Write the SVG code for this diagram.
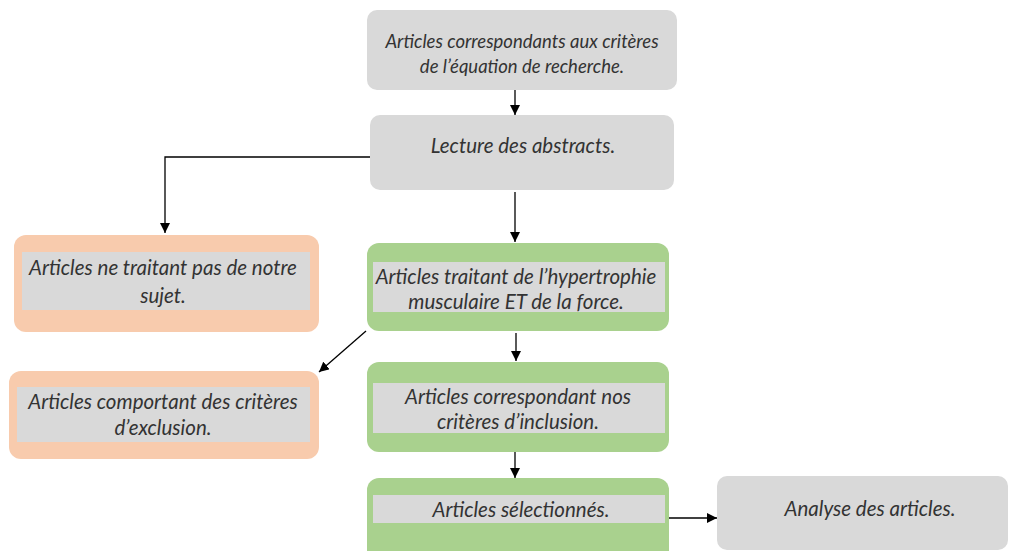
<svg xmlns="http://www.w3.org/2000/svg" width="1010" height="551" viewBox="0 0 1010 551">
<style>
.t{font-family:Lato,"Liberation Sans",sans-serif;font-style:italic;font-size:20.5px;fill:#333;text-anchor:middle}
.s{font-size:18.5px}
.g{fill:#d9d9d9}
.o{fill:#f8cbad}
.v{fill:#a9d18e}
.c{stroke:#000;stroke-width:1.3;fill:none;marker-end:url(#a)}
</style>
<defs>
<marker id="a" viewBox="0 0 10 10" refX="10" refY="5" markerWidth="10" markerHeight="10" markerUnits="userSpaceOnUse" orient="auto">
<path d="M0,0 L10,5 L0,10 z" fill="#000"/>
</marker>
</defs>
<rect width="1010" height="551" fill="#fff"/>
<g id="connectors">
<path class="c" d="M515,90 V115"/>
<path class="c" d="M370,157 H165 V233"/>
<path class="c" d="M515,192 V242"/>
<path class="c" d="M366,331 L319,372"/>
<path class="c" d="M516,333 V361"/>
<path class="c" d="M515,452 V478"/>
<path class="c" d="M669,518 H717"/>
</g>
<g id="n1"><rect class="g" x="367" y="10" width="310" height="80" rx="10"/>
<text class="t s" x="522" y="48">Articles correspondants aux critères</text>
<text class="t s" x="522" y="73">de l’équation de recherche.</text></g>
<g id="n2"><rect class="g" x="370" y="115" width="304" height="75" rx="10"/>
<text class="t" x="523" y="153">Lecture des abstracts.</text></g>
<g id="n3"><rect class="o" x="14" y="235" width="305" height="97" rx="12"/>
<rect class="g" x="22" y="252" width="288" height="58"/>
<text class="t" x="163" y="275">Articles ne traitant pas de notre</text>
<text class="t" x="163" y="303">sujet.</text></g>
<g id="n4"><rect class="o" x="9" y="371" width="310" height="88" rx="12"/>
<rect class="g" x="17" y="387" width="293" height="55"/>
<text class="t" x="163" y="409">Articles comportant des critères</text>
<text class="t" x="163" y="435">d’exclusion.</text></g>
<g id="n5"><rect class="v" x="367" y="243" width="302" height="88" rx="12"/>
<rect class="g" x="373" y="262" width="292" height="50"/>
<text class="t" x="516" y="284">Articles traitant de l’hypertrophie</text>
<text class="t" x="516" y="309">musculaire ET de la force.</text></g>
<g id="n6"><rect class="v" x="367" y="362" width="302" height="90" rx="12"/>
<rect class="g" x="373" y="383" width="292" height="50"/>
<text class="t" x="518" y="404">Articles correspondant nos</text>
<text class="t" x="518" y="429">critères d’inclusion.</text></g>
<g id="n7"><rect class="v" x="367" y="478" width="302" height="85" rx="12"/>
<rect class="g" x="373" y="495" width="292" height="28"/>
<text class="t" x="521" y="517">Articles sélectionnés.</text></g>
<g id="n8"><rect class="g" x="717" y="476" width="291" height="74" rx="10"/>
<text class="t" x="870" y="516">Analyse des articles.</text></g>
</svg>
